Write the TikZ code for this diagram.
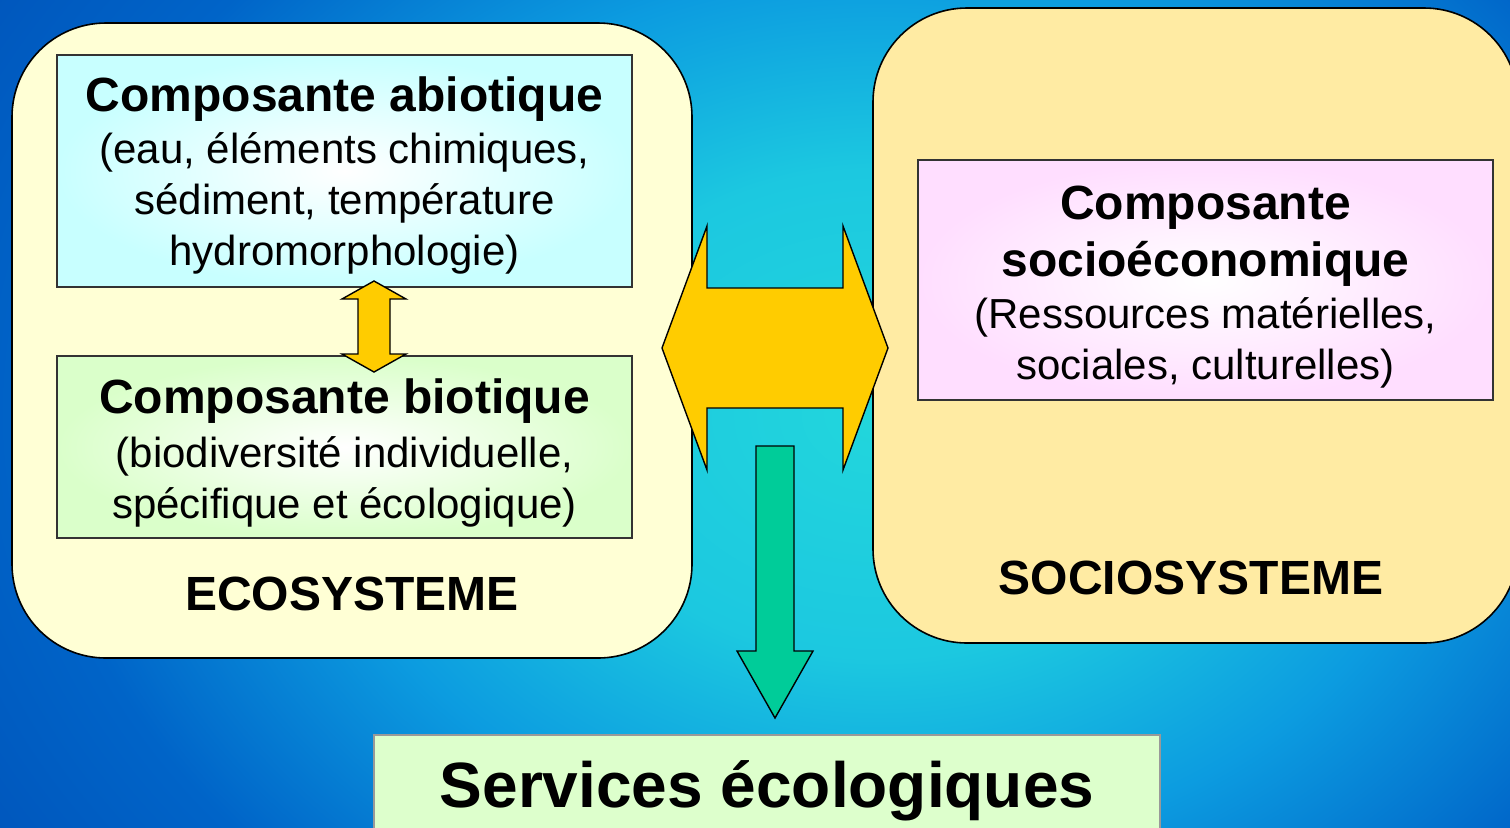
\documentclass[tikz,border=0pt]{standalone}
\usepackage{fontspec}
\setmainfont{Liberation Sans}
\usetikzlibrary{
	calc
}
\definecolor{ecofill}{HTML}{FFFFD5}
\definecolor{sociofill}{HTML}{FFEBA3}
\definecolor{abiofill}{HTML}{C8FFFF}
\definecolor{biofill}{HTML}{DAFFCA}
\definecolor{sefill}{HTML}{FFDEFF}
\definecolor{servfill}{HTML}{DDFFCC}
\definecolor{linkyellow}{HTML}{FFCC00}
\definecolor{linkgreen}{HTML}{00CC99}
\definecolor{bgA}{HTML}{22D6DC}
\definecolor{bgB}{HTML}{1CC8E0}
\definecolor{bgC}{HTML}{0C9CE0}
\definecolor{bgD}{HTML}{0064C8}
\definecolor{bgE}{HTML}{0056BC}
\pgfdeclareradialshading{slide}{\pgfpoint{0bp}{0bp}}{
	color(0bp)=(bgA); color(7.5bp)=(bgB); color(13.5bp)=(bgC);
	color(20bp)=(bgD); color(25bp)=(bgE); color(50bp)=(bgE)
}
\newcommand\titlefont{\fontsize{24}{28}\selectfont\bfseries}
\tikzset{
	system/.style={
		draw=black,
		line width=0.8pt,
		rounded corners=47pt
	},
	part/.style={
		draw=black!80,
		line width=0.6pt,
		align=center,
		minimum width=287.5pt,
		shade,
		inner color=white,
		font=\fontsize{21}{25.5}\selectfont
	},
	syslabel/.style={
		font=\fontsize{24}{28}\selectfont\bfseries
	},
	blockarrow/.style={
		draw=black,
		line width=0.7pt,
		line join=miter
	}
}

\begin{document}
\begin{tikzpicture}[x=0.5pt, y=-0.5pt] %%%% ECOSYSTEME / SOCIOSYSTEME
		\useasboundingbox (0,0) rectangle (1510,827);
		\clip (0,0) rectangle (1510,827);
		\shade[shading=slide] (-170,-400) rectangle (1930,1227);
		% systemes
		\node[system, fill=ecofill, minimum width=340pt, minimum height=317.5pt] (eco) at (352,340.5) {};
		\node[system, fill=sociofill, minimum width=322.5pt, minimum height=317.5pt] (socio) at (1195.5,325.5) {};
		% composantes
		\node[part, outer color=abiofill, minimum height=116pt] (abio) at (344.5,171) {
			\rule{0pt}{21.5pt}{\titlefont Composante abiotique}\\[0.5pt]
			(eau, éléments chimiques,\\
			sédiment, température\\
			hydromorphologie)};
		\node[part, outer color=biofill, minimum height=91pt] (bio) at (344.5,447) {
			\rule{0pt}{23pt}{\titlefont Composante biotique}\\[1.5pt]
			(biodiversité individuelle,\\
			spécifique et écologique)};
		\node[part, outer color=sefill, minimum height=120pt] (soceco) at (1205.5,280) {
			\rule{0pt}{23.5pt}{\titlefont Composante}\\[3pt]
			{\titlefont socioéconomique}\\[0.5pt]
			(Ressources matérielles,\\
			sociales, culturelles)};
		\node[syslabel] (ecolabel) at (352,594) {ECOSYSTEME};
		\node[syslabel] (sociolabel) at (1191,578) {SOCIOSYSTEME};
		\node[draw=black!40, line width=1pt, fill=servfill, minimum width=393pt, minimum height=50pt,
			text height=26pt, text depth=3.4pt,
			font=\fontsize{32}{36}\selectfont\bfseries] (services) at (767,785) {Services écologiques};
		% fleches
		\coordinate (abtop) at (374,281);
		\coordinate (bibot) at (374,372);
		\coordinate (linkL) at (662,348);
		\coordinate (linkR) at (888,348);
		\coordinate (linkS) at (775,446);
		\coordinate (tipS) at (775,718);
		\draw[blockarrow, fill=linkyellow] (abtop) -- ++(32,18) -- ++(-16,0) -- ++(0,55) -- ++(16,0)
			-- (bibot) -- ++(-32,-18) -- ++(16,0) -- ++(0,-55) -- ++(-16,0) -- cycle;
		\draw[blockarrow, fill=linkyellow] (linkL) -- ++(45,-122) -- ++(0,62) -- ++(136,0) -- ++(0,-62)
			-- (linkR) -- ++(-45,122) -- ++(0,-62) -- ++(-136,0) -- ++(0,62) -- cycle;
		\draw[blockarrow, fill=linkgreen] (linkS) -- ++(19,0) -- ++(0,205) -- ++(19,0)
			-- (tipS) -- ++(-38,-67) -- ++(19,0) -- ++(0,-205) -- cycle;
\end{tikzpicture}
\end{document}
